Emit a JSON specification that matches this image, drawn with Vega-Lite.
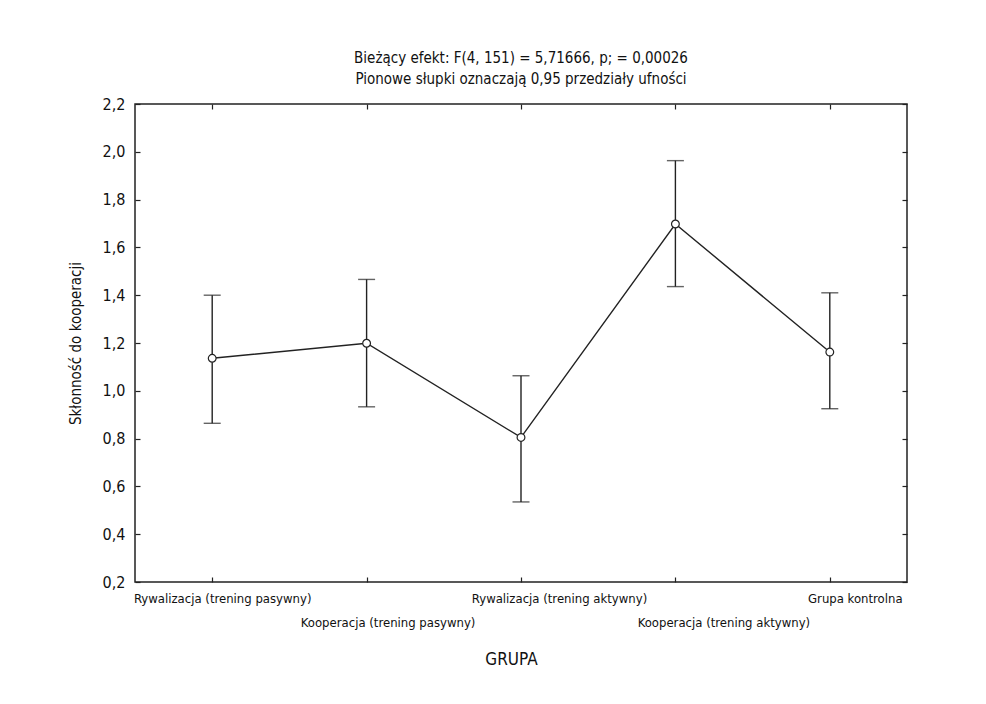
{
  "$schema": "https://vega.github.io/schema/vega-lite/v6.json",
  "width": 772,
  "height": 478,
  "autosize": {"type": "none"},
  "padding": {"left": 135, "top": 104, "right": 79, "bottom": 122},
  "background": "white",
  "config": {
    "font": "Liberation Sans Narrow, DejaVu Sans Condensed, sans-serif",
    "view": {"stroke": "#222", "strokeWidth": 1.5},
    "axis": {"domain": false, "tickColor": "#222", "tickWidth": 1.2, "labelColor": "#111", "titleColor": "#111", "titleFontWeight": "normal"}
  },
  "title": {
    "text": ["Bieżący efekt: F(4, 151) = 5,71666, p; = 0,00026", "Pionowe słupki oznaczają 0,95 przedziały ufności"],
    "fontSize": 15,
    "fontWeight": "normal",
    "color": "#111",
    "lineHeight": 21,
    "anchor": "middle",
    "offset": 9
  },
  "data": {
    "values": [
      {"grupa": "Rywalizacja (trening pasywny)", "mean": 1.136, "lo": 0.864, "hi": 1.4},
      {"grupa": "Kooperacja (trening pasywny)", "mean": 1.199, "lo": 0.933, "hi": 1.466},
      {"grupa": "Rywalizacja (trening aktywny)", "mean": 0.805, "lo": 0.535, "hi": 1.063},
      {"grupa": "Kooperacja (trening aktywny)", "mean": 1.698, "lo": 1.436, "hi": 1.963},
      {"grupa": "Grupa kontrolna", "mean": 1.162, "lo": 0.925, "hi": 1.41}
    ]
  },
  "resolve": {"axis": {"x": "independent", "y": "independent"}},
  "layer": [
    {
      "mark": {"type": "line", "color": "#222", "strokeWidth": 1.4},
      "encoding": {
        "x": {
          "field": "grupa", "type": "nominal", "sort": null,
          "scale": {"type": "point", "padding": 0.5},
          "axis": {
            "orient": "bottom", "title": "GRUPA", "titleFontSize": 17, "titlePadding": 22, "titleX": 376,
            "tickSize": -5, "labelAngle": 0, "labelFontSize": 13, "labelPadding": 15, "labelLimit": 0,
            "labelBaseline": "top", "labelLineHeight": 24, "labelOverlap": false, "labelBound": false, "labelFlush": false,
            "labelExpr": "(datum.value == 'Kooperacja (trening pasywny)' || datum.value == 'Kooperacja (trening aktywny)') ? ['', datum.label] : datum.label",
            "labelOffset": {"expr": "datum.value == 'Rywalizacja (trening pasywny)' ? 10 : datum.value == 'Kooperacja (trening pasywny)' ? 21 : datum.value == 'Rywalizacja (trening aktywny)' ? 38 : datum.value == 'Kooperacja (trening aktywny)' ? 48 : 25"}
          }
        },
        "y": {
          "field": "mean", "type": "quantitative",
          "scale": {"domain": [0.2, 2.2], "nice": false, "zero": false},
          "axis": {
            "orient": "left", "title": "Skłonność do kooperacji", "titleFontSize": 15, "titlePadding": 19,
            "values": [0.2, 0.4, 0.6, 0.8, 1.0, 1.2, 1.4, 1.6, 1.8, 2.0, 2.2],
            "tickSize": -5, "labelFontSize": 16, "labelPadding": 15, "grid": false,
            "labelExpr": "replace(format(datum.value, '.1f'), '.', ',')"
          }
        }
      }
    },
    {
      "mark": {"type": "rule", "color": "#222", "strokeWidth": 1.4},
      "encoding": {
        "x": {"field": "grupa", "type": "nominal", "sort": null,
          "axis": {"orient": "top", "title": null, "labels": false, "tickSize": -5}},
        "y": {"field": "lo", "type": "quantitative",
          "axis": {"orient": "right", "title": null, "labels": false, "tickSize": -5, "grid": false,
            "values": [0.2, 0.4, 0.6, 0.8, 1.0, 1.2, 1.4, 1.6, 1.8, 2.0, 2.2]}},
        "y2": {"field": "hi"}
      }
    },
    {
      "mark": {"type": "tick", "color": "#222", "size": 17, "thickness": 1.4, "orient": "horizontal"},
      "encoding": {
        "x": {"field": "grupa", "type": "nominal", "sort": null, "axis": null},
        "y": {"field": "lo", "type": "quantitative", "axis": null}
      }
    },
    {
      "mark": {"type": "tick", "color": "#222", "size": 17, "thickness": 1.4, "orient": "horizontal"},
      "encoding": {
        "x": {"field": "grupa", "type": "nominal", "sort": null, "axis": null},
        "y": {"field": "hi", "type": "quantitative", "axis": null}
      }
    },
    {
      "mark": {"type": "point", "shape": "circle", "filled": true, "fill": "white", "stroke": "#222", "strokeWidth": 1.2, "size": 60, "opacity": 1},
      "encoding": {
        "x": {"field": "grupa", "type": "nominal", "sort": null, "axis": null},
        "y": {"field": "mean", "type": "quantitative", "axis": null}
      }
    }
  ]
}
